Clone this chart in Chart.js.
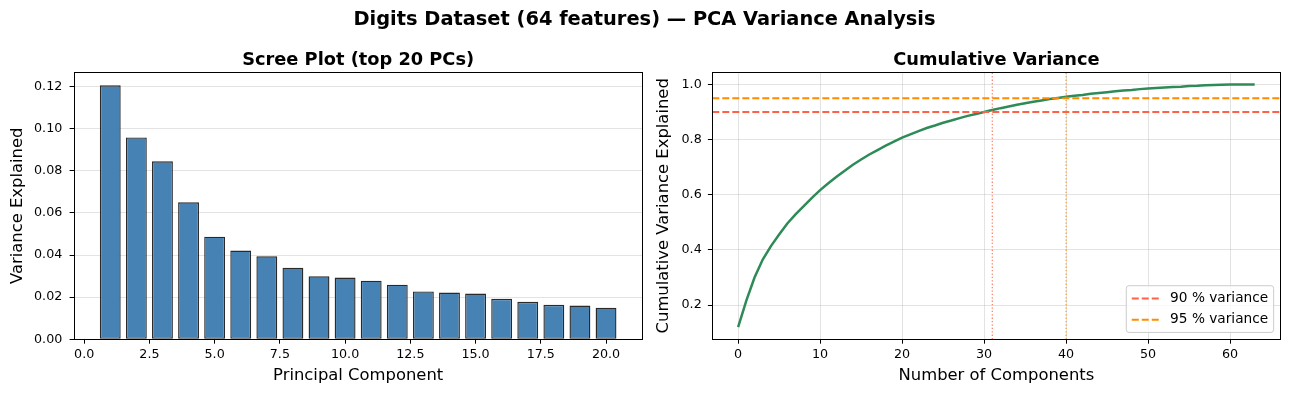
<!DOCTYPE html>
<html>
<head>
<meta charset="utf-8">
<script src="https://cdn.jsdelivr.net/npm/chart.js@4.4.1/dist/chart.umd.min.js"></script>
<style>
  html, body { margin: 0; padding: 0; background: #fff; }
  #fig { position: relative; width: 1289px; height: 396px; overflow: hidden; background: #fff;
         font-family: "DejaVu Sans", sans-serif; }
  #suptitle { position: absolute; left: 0; top: 8.6px; width: 1289px; text-align: center;
              font-weight: bold; font-size: 19.4px; line-height: 20px; z-index: 2; }
  .panel { position: absolute; top: 0; height: 396px; }
  #left { left: 0; width: 650px; }
  #right { left: 650px; width: 639px; }
</style>
</head>
<body>
<div id="fig">
  <div id="suptitle">Digits Dataset (64 features) — PCA Variance Analysis</div>
  <div class="panel" id="left"><canvas id="scree"></canvas></div>
  <div class="panel" id="right"><canvas id="cumul"></canvas></div>
</div>
<script>
// Scree plot: explained variance ratio of the first 20 components
const components = [1, 2, 3, 4, 5, 6, 7, 8, 9, 10, 11, 12, 13, 14, 15, 16, 17, 18, 19, 20];
const screeValues = [0.1205, 0.0958, 0.0845, 0.0650, 0.0487, 0.0421, 0.0394, 0.0340, 0.0299, 0.0293,
  0.0278, 0.0259, 0.0227, 0.0222, 0.0217, 0.0192, 0.0178, 0.0164, 0.0160, 0.0150];
const screeXTicks = [0, 2.5, 5, 7.5, 10, 12.5, 15, 17.5, 20];
const screeYTicks = [0, 0.02, 0.04, 0.06, 0.08, 0.1, 0.12];

// Cumulative explained variance for 0..63 components
const cumulativeVariance = [0.120, 0.216, 0.300, 0.365, 0.414, 0.456, 0.496, 0.529, 0.559, 0.589,
  0.617, 0.642, 0.665, 0.687, 0.709, 0.728, 0.746, 0.762, 0.778, 0.793,
  0.807, 0.819, 0.831, 0.842, 0.851, 0.861, 0.869, 0.878, 0.886, 0.893,
  0.900, 0.907, 0.914, 0.920, 0.926, 0.932, 0.937, 0.942, 0.947, 0.951,
  0.955, 0.959, 0.962, 0.966, 0.969, 0.972, 0.975, 0.978, 0.980, 0.983,
  0.985, 0.987, 0.989, 0.991, 0.992, 0.994, 0.995, 0.997, 0.998, 0.999,
  1.000, 1.000, 1.000, 1.000];
const cumXTicks = [0, 10, 20, 30, 40, 50, 60];
const cumYTicks = [0.2, 0.4, 0.6, 0.8, 1.0];

// Variance thresholds and the component counts where they are reached
const thresholds = [0.90, 0.95];
const thresholdLabels = ["90 % variance", "95 % variance"];
const thresholdComponents = [31, 40];
const thresholdColors = ["#FF6347", "#FF8C00"];
const thresholdDotColors = ["rgba(255,99,71,0.85)", "rgba(255,140,0,0.85)"];

// Axis limits (matplotlib style 5% margins)
const screeX = [-0.39, 21.39], screeY = [0, 0.1267];
const cumX = [-3.15, 66.15], cumY = [0.076, 1.044];

Chart.defaults.font.family = '"DejaVu Sans", sans-serif';
Chart.defaults.font.size = 12.7;
Chart.defaults.color = "#000";

const GRID = "rgba(176,176,176,0.35)";
const TICKLEN = 4.4;

// Box around the plot area like matplotlib spines.
const axesFrame = {
  id: "axesFrame",
  afterDraw(chart) {
    const { ctx, chartArea: a } = chart;
    const l = Math.floor(a.left) + 0.5, t = Math.floor(a.top) + 0.5;
    const r = Math.floor(a.right) + 0.5, b = Math.floor(a.bottom) + 0.5;
    ctx.save();
    ctx.strokeStyle = "#000";
    ctx.lineWidth = 1;
    ctx.strokeRect(l, t, r - l, b - t);
    ctx.restore();
  },
};

// Subplot title centred over the plot area.
const panelTitle = {
  id: "panelTitle",
  afterDraw(chart, args, opts) {
    const { ctx, chartArea: a } = chart;
    ctx.save();
    ctx.font = `bold ${opts.size}px "DejaVu Sans", sans-serif`;
    ctx.fillStyle = "#000";
    ctx.textAlign = "center";
    ctx.textBaseline = "alphabetic";
    ctx.fillText(opts.text, (a.left + a.right) / 2, a.top - opts.gap);
    ctx.restore();
  },
};

// Legend inside the lower right corner of the plot area.
const cornerLegend = {
  id: "cornerLegend",
  afterDraw(chart, args, opts) {
    const { ctx, chartArea: a } = chart;
    const fs = opts.fontSize;
    const items = chart.data.datasets.filter((d) => d.inLegend);
    ctx.save();
    ctx.font = `${fs}px "DejaVu Sans", sans-serif`;
    const textW = Math.max(...items.map((d) => ctx.measureText(d.label).width));
    const pad = 0.4 * fs, handle = 2 * fs, gap = 0.8 * fs;
    const spacing = 0.5 * fs, rowH = 1.055 * fs, margin = 0.5 * fs;
    const w = 2 * pad + handle + gap + textW;
    const h = 2 * pad + items.length * rowH + (items.length - 1) * spacing;
    const x0 = a.right - margin - w;
    const y0 = a.bottom - margin - h;
    ctx.beginPath();
    ctx.roundRect(x0, y0, w, h, 0.2 * fs);
    ctx.fillStyle = "rgba(255,255,255,0.8)";
    ctx.fill();
    ctx.strokeStyle = "#cccccc";
    ctx.lineWidth = 1;
    ctx.stroke();
    items.forEach((d, i) => {
      const cy = y0 + pad + rowH / 2 + i * (rowH + spacing);
      ctx.beginPath();
      ctx.setLineDash(d.borderDash || []);
      ctx.strokeStyle = d.borderColor;
      ctx.lineWidth = d.borderWidth;
      ctx.moveTo(x0 + pad, cy);
      ctx.lineTo(x0 + pad + handle, cy);
      ctx.stroke();
      ctx.setLineDash([]);
      ctx.fillStyle = "#000";
      ctx.textAlign = "left";
      ctx.textBaseline = "middle";
      ctx.fillText(d.label, x0 + pad + handle + gap, cy);
    });
    ctx.restore();
  },
};

function fixedTicks(values) {
  return (scale) => {
    scale.ticks = values.map((v) => ({ value: v }));
  };
}

const axisTitleFont = { size: 16.4 };

new Chart(document.getElementById("scree"), {
  type: "bar",
  data: {
    datasets: [
      {
        data: components.map((c, i) => ({ x: c, y: screeValues[i] })),
        backgroundColor: "#4682B4",
        borderColor: "#2a2a2a",
        borderWidth: 1.4,
        borderSkipped: false,
        inflateAmount: 0,
        categoryPercentage: 1,
        barPercentage: 0.8,
      },
    ],
  },
  options: {
    responsive: true,
    maintainAspectRatio: false,
    animation: false,
    events: [],
    layout: { padding: { left: 0, right: 7.7, top: 72.3, bottom: 0 } },
    scales: {
      x: {
        type: "linear",
        offset: false,
        min: screeX[0],
        max: screeX[1],
        afterBuildTicks: fixedTicks(screeXTicks),
        afterFit: (s) => { s.height = 56.7; },
        ticks: { callback: (v) => v.toFixed(1), padding: 3, maxRotation: 0, autoSkip: false },
        grid: { offset: false, drawOnChartArea: false, tickColor: "#000", tickLength: TICKLEN, tickWidth: 1 },
        border: { display: false },
        title: { display: true, text: "Principal Component", font: axisTitleFont, padding: { top: 0, bottom: 10.2 } },
      },
      y: {
        type: "linear",
        min: screeY[0],
        max: screeY[1],
        z: 1,
        afterBuildTicks: fixedTicks(screeYTicks),
        afterFit: (s) => { s.width = 74; },
        ticks: { callback: (v) => v.toFixed(2), padding: 7.3 },
        grid: { color: GRID, tickColor: "#000", tickLength: TICKLEN, tickWidth: 1 },
        border: { display: false },
        title: { display: true, text: "Variance Explained", font: axisTitleFont, padding: { top: 8.2, bottom: 0 } },
      },
    },
    plugins: {
      legend: { display: false },
      tooltip: { enabled: false },
      panelTitle: { text: "Scree Plot (top 20 PCs)", size: 17.8, gap: 7.3 },
    },
  },
  plugins: [axesFrame, panelTitle],
});

const lineDatasets = [];
thresholds.forEach((t, i) => {
  lineDatasets.push({
    label: thresholdLabels[i],
    inLegend: true,
    data: [{ x: cumX[0], y: t }, { x: cumX[1], y: t }],
    borderColor: thresholdColors[i],
    borderWidth: 1.9,
    borderDash: [7, 3],
    pointRadius: 0,
  });
});
thresholdComponents.forEach((n, i) => {
  lineDatasets.push({
    label: "n" + n,
    data: [{ x: n, y: cumY[0] }, { x: n, y: cumY[1] }],
    borderColor: thresholdDotColors[i],
    borderWidth: 1.2,
    borderDash: [1.3, 2.1],
    pointRadius: 0,
  });
});
lineDatasets.push({
  label: "Cumulative",
  data: cumulativeVariance.map((v, i) => ({ x: i, y: v })),
  borderColor: "#2E8B57",
  borderWidth: 2.5,
  pointRadius: 0,
  tension: 0,
});

new Chart(document.getElementById("cumul"), {
  type: "line",
  data: { datasets: lineDatasets },
  options: {
    responsive: true,
    maintainAspectRatio: false,
    animation: false,
    events: [],
    layout: { padding: { left: 0, right: 8.5, top: 72.3, bottom: 0 } },
    scales: {
      x: {
        type: "linear",
        min: cumX[0],
        max: cumX[1],
        afterBuildTicks: fixedTicks(cumXTicks),
        afterFit: (s) => { s.height = 56.7; },
        ticks: { callback: (v) => String(v), padding: 3, maxRotation: 0, autoSkip: false },
        grid: { color: GRID, tickColor: "#000", tickLength: TICKLEN, tickWidth: 1 },
        border: { display: false },
        title: { display: true, text: "Number of Components", font: axisTitleFont, padding: { top: 0, bottom: 10.2 } },
      },
      y: {
        type: "linear",
        min: cumY[0],
        max: cumY[1],
        afterBuildTicks: fixedTicks(cumYTicks),
        afterFit: (s) => { s.width = 62.3; },
        ticks: { callback: (v) => v.toFixed(1), padding: 6.2 },
        grid: { color: GRID, tickColor: "#000", tickLength: TICKLEN, tickWidth: 1 },
        border: { display: false },
        title: { display: true, text: "Cumulative Variance Explained", font: axisTitleFont, padding: { top: 4.2, bottom: 0 } },
      },
    },
    plugins: {
      legend: { display: false },
      tooltip: { enabled: false },
      panelTitle: { text: "Cumulative Variance", size: 17.8, gap: 7.3 },
      cornerLegend: { fontSize: 13.7 },
    },
  },
  plugins: [axesFrame, panelTitle, cornerLegend],
});
</script>
</body>
</html>
